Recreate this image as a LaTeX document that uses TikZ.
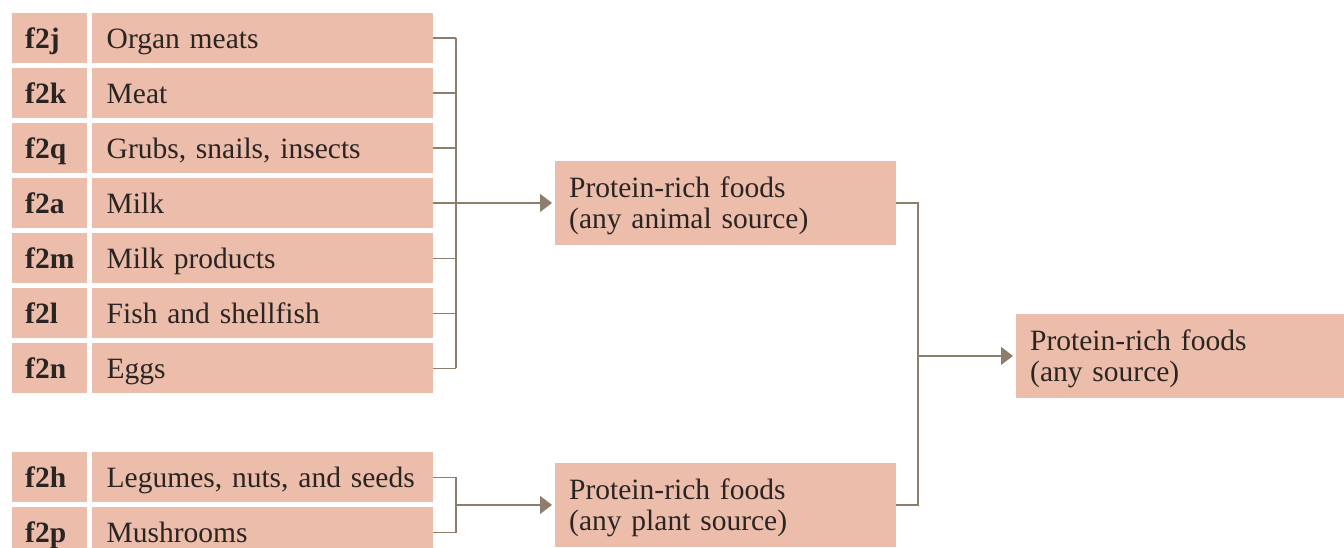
\documentclass[tikz,border=0pt]{standalone}
\usepackage{fontspec}
\setmainfont{Liberation Serif}
\usetikzlibrary{arrows.meta}
\definecolor{boxfill}{HTML}{ECBDAA}
\definecolor{linkc}{HTML}{8C7E6A}
\definecolor{inkc}{HTML}{2A2523}

\begin{document}
\begin{tikzpicture}[x=1pt,y=-1pt,
  every node/.style={font=\fontsize{29.5}{31.5}\selectfont, text=inkc},
  cell/.style={fill=boxfill, anchor=north west, inner ysep=0pt, align=left,
    text height=20pt, text depth=0pt},
  codebox/.style={cell, minimum height=50pt, text width=49pt, inner xsep=13pt,
    font=\fontsize{29.5}{31.5}\selectfont\bfseries},
  itembox/.style={cell, minimum height=50pt, text width=312pt, inner xsep=14.5pt},
  groupbox/.style={cell, minimum height=83.5pt, text depth=31.5pt, inner xsep=14pt},
  link/.style={draw=linkc, line width=1.4pt},
  feed/.style={link, -{Triangle[length=12pt,width=18pt]}, shorten >=3pt}]

\useasboundingbox (0,0) rectangle (1344,548);

% animal-source items
\node[codebox] (C1) at (12,13)  {f2j};
\node[itembox] (L1) at (92,13)  {Organ meats};
\node[codebox] (C2) at (12,68)  {f2k};
\node[itembox] (L2) at (92,68)  {Meat};
\node[codebox] (C3) at (12,123) {f2q};
\node[itembox] (L3) at (92,123) {Grubs, snails, insects};
\node[codebox] (C4) at (12,178) {f2a};
\node[itembox] (L4) at (92,178) {Milk};
\node[codebox] (C5) at (12,233) {f2m};
\node[itembox] (L5) at (92,233) {Milk products};
\node[codebox] (C6) at (12,288) {f2l};
\node[itembox] (L6) at (92,288) {Fish and shellfish};
\node[codebox] (C7) at (12,343) {f2n};
\node[itembox] (L7) at (92,343) {Eggs};

% plant-source items
\node[codebox] (C8) at (12,452) {f2h};
\node[itembox] (L8) at (92,452) {Legumes, nuts, and seeds};
\node[codebox] (C9) at (12,507) {f2p};
\node[itembox] (L9) at (92,507) {Mushrooms};

% grouped categories
\node[groupbox, text width=313pt] (animal) at (555,161)
  {Protein-rich foods\\(any animal source)};
\node[groupbox, text width=313pt] (plant) at (555,463)
  {Protein-rich foods\\(any plant source)};
\node[groupbox, text width=320pt] (any) at (1016,314)
  {Protein-rich foods\\(any source)};

% bus lines
\coordinate (busA) at (456,0);
\coordinate (busB) at (456,0);
\coordinate (busC) at (918,0);

\foreach \i in {1,...,7}
  \draw[link] (L\i.east) -- (L\i.east -| busA);
\draw[link] (L1.east -| busA) -- (L7.east -| busA);
\draw[feed] (busA |- animal.west) -- (animal.west);

\draw[link] (L8.east) -- (L8.east -| busB) -- (L9.east -| busB) -- (L9.east);
\draw[feed] (busB |- plant.west) -- (plant.west);

\draw[link] (animal.east) -- (animal.east -| busC) -- (plant.east -| busC) -- (plant.east);
\draw[feed] (busC |- any.west) -- (any.west);
\end{tikzpicture}
\end{document}
